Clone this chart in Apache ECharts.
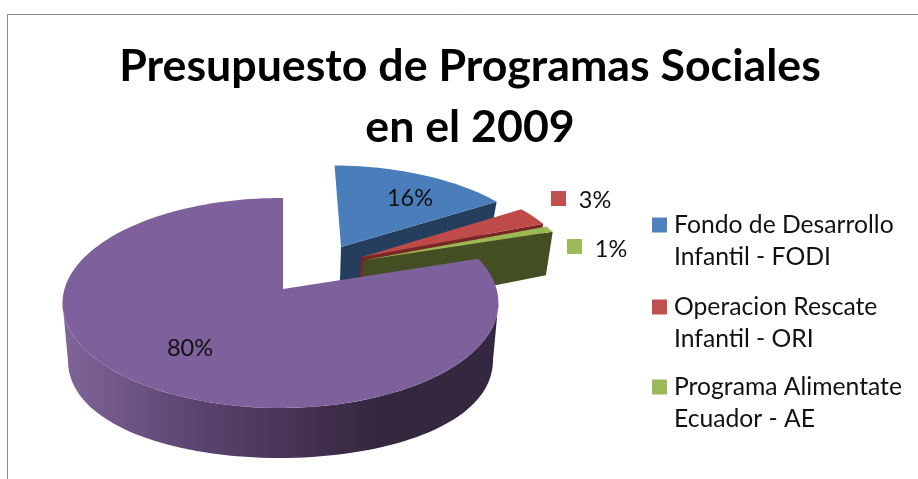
<!DOCTYPE html>
<html>
<head>
<meta charset="utf-8">
<style>html,body{margin:0;padding:0;background:#fff}#c{width:918px;height:479px}</style>
<script src="https://cdn.jsdelivr.net/npm/echarts@6/dist/echarts.min.js"></script>
</head>
<body>
<div id="c"></div>
<script>
const titleLines = ['Presupuesto de Programas Sociales', 'en el 2009'];
const categories = ['Fondo de Desarrollo\nInfantil - FODI', 'Operacion Rescate\nInfantil - ORI', 'Programa Alimentate\nEcuador - AE', 'Otros'];
const shares = [16, 3, 1, 80];
const topColors = ['#4a7ebb', '#be4b48', '#98b954', '#7e609c'];
const keyColors = ['#4f81bd', '#c0504d', '#9bbb59', '#8064a2'];
const cutColors = ['#253e5e', '#7a2624', '#434f22', '#3a2d4a'];

// Layout of the tilted pie (projective mapping of the disc plane)
const APEX = {x: 283, y: 289}, RX = 216, RY = 103.1, TILT = 0.1333, YAW = 0.0115, SHRINK = 0.975, MIDX = 281;
const explode = [[0.285, 0.431, 1], [0.378, 0.323, 1.03], [0.39, 0.29, 1.03], [0, 0, 1]];
const labelPos = [[410, 198], [595, 200], [611, 249], [190, 348]];
const keyPos = [[361, 191], [551, 191], [567, 239], [139, 338]];
const legendTops = [177, 259, 339];
const FONT = 'Lato';
const total = shares.reduce((a, b) => a + b, 0);

function depthAt(v) { return 56 - 10.7 * v - 16.7 * v * v; }
function planeUV(i, deg, r) {
  const a = deg * Math.PI / 180, e = explode[i];
  return [e[0] + r * e[2] * Math.sin(a), e[1] + r * e[2] * Math.cos(a)];
}
function project(u, v) {
  const w = 1 + YAW * u + TILT * v;
  return {x: APEX.x + RX * u / w, y: APEX.y - RY * v / w};
}
function topPt(i, deg, r) {
  const uv = planeUV(i, deg, r), p = project(uv[0], uv[1]);
  return [p.x, p.y];
}
function basePt(i, deg, r) {
  const uv = planeUV(i, deg, r), p = project(uv[0], uv[1]);
  return [MIDX + (p.x - MIDX) * SHRINK, p.y + depthAt(uv[1])];
}
function arc(fn, i, a, b) {
  const out = [], n = Math.max(2, Math.ceil(Math.abs(b - a) / 2));
  for (let k = 0; k <= n; k++) out.push(fn(i, a + (b - a) * k / n, 1));
  return out;
}
// angle of the horizontal extreme of a rim, used as the silhouette of the wall
function extremeDeg(fn, i, from, to, sign) {
  let best = from, bx = -Infinity;
  for (let d = from; d <= to; d += 0.5) {
    const x = sign * fn(i, d, 1)[0];
    if (x > bx) { bx = x; best = d; }
  }
  return best;
}
const wallGradient = {type: 'linear', global: true, x: 62, y: 0, x2: 499, y2: 0, colorStops: [
  {offset: 0, color: '#80659a'}, {offset: 0.3, color: '#5b4570'}, {offset: 0.62, color: '#3f2d4b'}, {offset: 0.72, color: '#33283f'}, {offset: 1, color: '#33283f'}]};

function renderSlice(params, api) {
  const i = params.seriesIndex;
  const value = api.value(0);
  const start = shares.slice(0, i).reduce((a, b) => a + b, 0) / total * 360;
  const end = start + value / total * 360;
  const kids = [];
  if (i === 3) {
    const tr = extremeDeg(topPt, i, 72, 180, 1), tl = extremeDeg(topPt, i, 180, 360, -1);
    const br = extremeDeg(basePt, i, 72, 180, 1), bl = extremeDeg(basePt, i, 180, 360, -1);
    const top = arc(topPt, i, tr, tl), bot = arc(basePt, i, br, bl).reverse();
    kids.push({type: 'polygon', shape: {points: top.concat(bot)}, style: {fill: wallGradient}});
  } else {
    kids.push({type: 'polygon', shape: {points: [topPt(i, end, 0), topPt(i, end, 1), basePt(i, end, 1), basePt(i, end, 0)]}, style: {fill: cutColors[i]}});
  }
  const face = [topPt(i, start, 0)].concat(arc(topPt, i, start, end));
  kids.push({type: 'polygon', shape: {points: face}, style: {fill: topColors[i]}});
  kids.push({type: 'rect', shape: {x: keyPos[i][0], y: keyPos[i][1], width: 15, height: 15},
    style: {fill: i === 0 || i === 3 ? topColors[i] : keyColors[i]}});
  kids.push({type: 'text', style: {text: value + '%', x: labelPos[i][0], y: labelPos[i][1], align: 'center', verticalAlign: 'middle',
    font: '23.5px ' + FONT, fill: '#111'}});
  return {type: 'group', children: kids};
}

const chart = echarts.init(document.getElementById('c'), null, {renderer: 'canvas'});
chart.setOption({
  animation: false,
  backgroundColor: '#fff',
  title: {
    text: titleLines.join('\n'), left: 465, top: 31, textAlign: 'center',
    textStyle: {fontFamily: FONT, fontWeight: 'bold', fontSize: 44.7, lineHeight: 61, color: '#000'}
  },
  legend: legendTops.map((t, i) => ({
    data: [categories[i]], left: 652, top: t, orient: 'vertical', padding: 0, selectedMode: false,
    icon: 'rect', itemWidth: 15, itemHeight: 15, itemGap: 0,
    formatter: n => '\n' + n,
    textStyle: {fontFamily: FONT, fontSize: 24.7, lineHeight: 32, color: '#111', padding: [0, 0, 0, 2]}
  })),
  graphic: [{type: 'rect', silent: true, z: -1, shape: {x: 7.5, y: 14.5, width: 1000, height: 1000},
    style: {fill: 'none', stroke: '#8c8c8c', lineWidth: 1}}],
  series: shares.map((s, i) => ({
    type: 'custom', name: categories[i], coordinateSystem: 'none', data: [[s]],
    itemStyle: {color: keyColors[i]}, renderItem: renderSlice, silent: true
  }))
});
</script>
</body>
</html>
